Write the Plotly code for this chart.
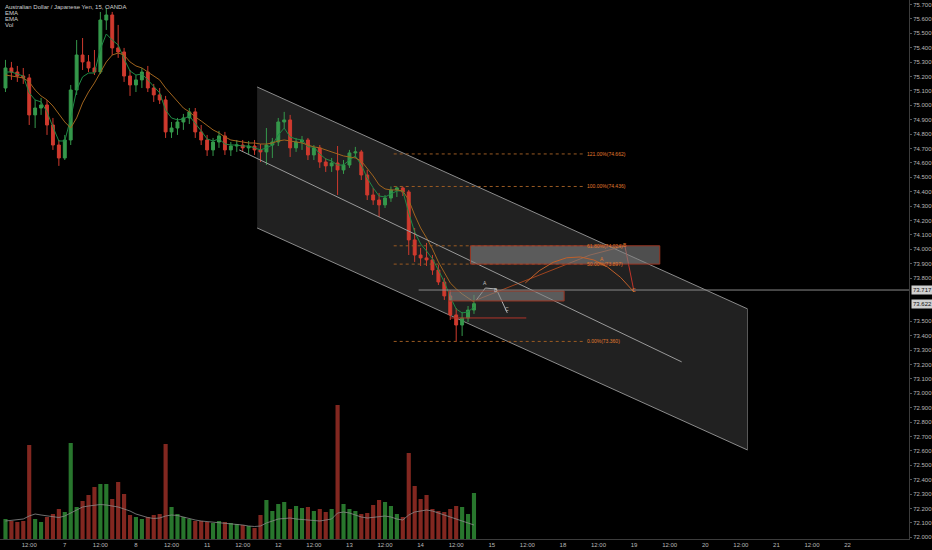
import plotly.graph_objects as go

# ---------------- header texts ----------------
header_lines = ["Australian Dollar / Japanese Yen, 15, OANDA", "EMA", "EMA", "Vol"]

# ---------------- time axis (trading-day units, weekends removed; 0 = Nov 6 00:00) ----------------
tick_positions = [0.5, 1, 1.5, 2, 2.5, 3, 3.5, 4, 4.5, 5, 5.5, 6, 6.5, 7, 7.5, 8, 8.5, 9, 9.5, 10, 10.5, 11, 11.5, 12]
tick_labels = ["12:00", "7", "12:00", "8", "12:00", "11", "12:00", "12", "12:00", "13", "12:00", "14",
               "12:00", "15", "12:00", "18", "12:00", "19", "12:00", "20", "12:00", "21", "12:00", "22"]
first_bar_start = 0.125      # Nov 6 03:00
bar_length = 1 / 12          # 2-hour bars

# ---------------- price data (2h OHLC) ----------------
opens = [75.120, 75.259, 75.231, 75.203, 75.190, 74.933, 74.981, 75.002, 74.863, 74.724,
         74.634, 74.759, 75.106, 75.349, 75.301, 75.259, 75.231, 75.592, 75.627, 75.398,
         75.370, 75.203, 75.141, 75.176, 75.231, 75.120, 75.072, 75.037, 74.815, 74.842,
         74.884, 74.912, 74.954, 74.815, 74.759, 74.690, 74.745, 74.787, 74.690, 74.717,
         74.724, 74.704, 74.717, 74.690, 74.676, 74.724, 74.745, 74.884, 74.898, 74.704,
         74.745, 74.759, 74.655, 74.704, 74.606, 74.579, 74.599, 74.551, 74.585, 74.669,
         74.676, 74.516, 74.377, 74.342, 74.308, 74.356, 74.412, 74.426, 74.398, 74.065,
         73.960, 73.940, 73.926, 73.856, 73.773, 73.676, 73.544, 73.474, 73.523, 73.578]
highs = [75.315, 75.301, 75.273, 75.259, 75.217, 75.037, 75.051, 75.037, 74.912, 74.759,
         74.794, 75.141, 75.453, 75.467, 75.349, 75.384, 75.648, 75.676, 75.648, 75.558,
         75.398, 75.245, 75.210, 75.259, 75.273, 75.148, 75.120, 75.065, 74.884, 74.912,
         74.940, 74.981, 74.981, 74.863, 74.794, 74.773, 74.822, 74.815, 74.745, 74.759,
         74.759, 74.752, 74.759, 74.731, 74.842, 74.773, 74.912, 74.954, 74.933, 74.773,
         74.787, 74.773, 74.724, 74.724, 74.634, 74.634, 74.717, 74.620, 74.690, 74.711,
         74.690, 74.551, 74.426, 74.391, 74.377, 74.436, 74.436, 74.436, 74.412, 74.148,
         74.009, 74.044, 73.960, 73.891, 73.801, 73.717, 73.592, 73.565, 73.606, 73.683]
lows = [75.092, 75.176, 75.162, 75.148, 74.863, 74.842, 74.933, 74.794, 74.690, 74.579,
        74.620, 74.724, 75.072, 75.245, 75.231, 75.210, 75.217, 75.523, 75.349, 75.329,
        75.162, 75.065, 75.092, 75.120, 75.092, 75.023, 75.009, 74.773, 74.773, 74.794,
        74.829, 74.870, 74.773, 74.724, 74.648, 74.648, 74.704, 74.655, 74.648, 74.676,
        74.676, 74.662, 74.655, 74.606, 74.585, 74.634, 74.717, 74.842, 74.641, 74.676,
        74.690, 74.620, 74.620, 74.565, 74.537, 74.537, 74.377, 74.523, 74.565, 74.634,
        74.481, 74.342, 74.308, 74.224, 74.287, 74.329, 74.363, 74.370, 73.960, 73.912,
        73.884, 73.884, 73.822, 73.752, 73.648, 73.509, 73.360, 73.398, 73.495, 73.551]
closes = [75.259, 75.231, 75.203, 75.190, 74.933, 74.981, 75.002, 74.863, 74.724, 74.634,
          74.759, 75.106, 75.349, 75.301, 75.259, 75.231, 75.592, 75.627, 75.398, 75.370,
          75.203, 75.141, 75.176, 75.231, 75.120, 75.072, 75.037, 74.815, 74.842, 74.884,
          74.912, 74.954, 74.815, 74.759, 74.690, 74.745, 74.787, 74.690, 74.717, 74.724,
          74.704, 74.717, 74.690, 74.676, 74.724, 74.745, 74.884, 74.898, 74.704, 74.745,
          74.759, 74.655, 74.704, 74.606, 74.579, 74.599, 74.551, 74.585, 74.669, 74.676,
          74.516, 74.377, 74.342, 74.308, 74.356, 74.412, 74.426, 74.398, 74.065, 73.960,
          73.940, 73.926, 73.856, 73.773, 73.676, 73.544, 73.474, 73.523, 73.578, 73.622]

ema_fast = [75.231, 75.231, 75.217, 75.203, 75.086, 75.037, 75.023, 74.954, 74.849, 74.752,
            74.752, 74.912, 75.106, 75.197, 75.224, 75.224, 75.391, 75.495, 75.453, 75.419,
            75.322, 75.238, 75.210, 75.217, 75.176, 75.127, 75.086, 74.967, 74.912, 74.898,
            74.905, 74.926, 74.877, 74.822, 74.766, 74.752, 74.766, 74.731, 74.724, 74.724,
            74.717, 74.717, 74.704, 74.690, 74.704, 74.724, 74.794, 74.842, 74.780, 74.766,
            74.759, 74.711, 74.711, 74.662, 74.627, 74.613, 74.585, 74.585, 74.620, 74.648,
            74.585, 74.495, 74.426, 74.370, 74.363, 74.384, 74.405, 74.405, 74.252, 74.120,
            74.037, 73.988, 73.933, 73.856, 73.773, 73.669, 73.585, 73.558, 73.565, 73.599]
ema_slow = [75.210, 75.203, 75.197, 75.190, 75.162, 75.106, 75.065, 75.037, 74.995, 74.940,
            74.884, 74.842, 74.912, 75.016, 75.092, 75.155, 75.224, 75.301, 75.349, 75.363,
            75.349, 75.301, 75.273, 75.259, 75.231, 75.203, 75.176, 75.120, 75.072, 75.023,
            74.981, 74.954, 74.919, 74.891, 74.863, 74.829, 74.808, 74.780, 74.759, 74.752,
            74.745, 74.738, 74.738, 74.731, 74.731, 74.738, 74.752, 74.759, 74.752, 74.745,
            74.738, 74.724, 74.711, 74.704, 74.690, 74.676, 74.662, 74.648, 74.641, 74.634,
            74.613, 74.565, 74.509, 74.447, 74.419, 74.412, 74.412, 74.405, 74.342, 74.238,
            74.148, 74.079, 74.002, 73.912, 73.842, 73.766, 73.725, 73.690, 73.662, 73.634]

volumes = [200, 180, 170, 180, 940, 200, 170, 220, 250, 300,
           270, 960, 320, 380, 440, 520, 550, 550, 400, 570,
           450, 240, 220, 200, 220, 240, 250, 950, 320, 250,
           220, 200, 180, 180, 170, 160, 180, 170, 160, 150,
           140, 130, 110, 240, 390, 280, 350, 370, 300, 330,
           310, 320, 280, 300, 270, 300, 1340, 350, 300, 280,
           250, 260, 340, 390, 370, 330, 250, 220, 860, 530,
           400, 440, 300, 280, 270, 300, 330, 320, 250, 460]
volume_ma = [180, 185, 190, 200, 230, 250, 240, 230, 220, 215,
             230, 260, 290, 320, 330, 340, 345, 340, 330, 320,
             300, 280, 250, 230, 215, 205, 210, 230, 240, 235,
             220, 200, 190, 180, 175, 170, 165, 160, 155, 150,
             140, 130, 125, 130, 160, 180, 200, 205, 210, 200,
             195, 190, 185, 180, 190, 200, 260, 270, 260, 240,
             220, 210, 215, 225, 230, 220, 200, 190, 240, 270,
             280, 290, 280, 260, 240, 220, 200, 180, 160, 140]

# ---------------- drawings (in data coordinates) ----------------
channel_x = [3.703, 10.594, 10.594, 3.703]
channel_y = [75.127, 73.586, 72.606, 74.148]
mid_line_x = [3.451, 9.669]
mid_line_y = [74.690, 73.218]

fib_labels = ["121.00%(74.662)", "100.00%(74.436)", "61.80%(74.024)", "50.00%(73.897)", "0.00%(73.360)"]
fib_prices = [74.662, 74.436, 74.024, 73.897, 73.360]
fib_x = [5.622, 8.283]

zone_upper_x = [6.700, 9.361]
zone_upper_y = [73.897, 74.024]
zone_lower_x = [6.392, 8.017]
zone_lower_y = [73.641, 73.710]

hline_price = 73.717
hline_start = 5.972
red_line_x = [6.420, 7.485]
red_line_y = 73.523

small_abc_x = [6.784, 6.910, 7.064, 7.218]
small_abc_y = [73.648, 73.731, 73.724, 73.558]
big_abc_x = [6.784, 8.381, 8.871, 8.997]
big_abc_y = [73.648, 73.960, 74.023, 73.711]
arc_x = [7.471, 8.255, 8.997]
arc_y = [73.766, 74.158, 73.704]

x_range = [0.0896, 12.863]
y_range = [71.988, 75.731]
vol_range = [0, 5390]

# ---------------- build ----------------
n = len(closes)
x_bars = [first_bar_start + bar_length * (i + 0.5) for i in range(n)]
vol_colors = ["#2b7d30" if c >= o else "#8a2a22" for o, c in zip(opens, closes)]

fig = go.Figure()

fig.add_trace(go.Bar(x=x_bars, y=volumes, marker=dict(color=vol_colors, line=dict(width=0)),
                     width=bar_length * 0.7, yaxis="y2", opacity=0.95))
fig.add_trace(go.Scatter(x=x_bars, y=volume_ma, mode="lines", line=dict(color="#8a8a8a", width=0.8),
                         yaxis="y2"))
fig.add_trace(go.Candlestick(x=x_bars, open=opens, high=highs, low=lows, close=closes,
                             increasing=dict(line=dict(color="#35984b", width=1), fillcolor="#35984b"),
                             decreasing=dict(line=dict(color="#cf3a2e", width=1), fillcolor="#cf3a2e"),
                             whiskerwidth=0))
fig.add_trace(go.Scatter(x=x_bars, y=ema_fast, mode="lines", line=dict(color="#1f8a45", width=1)))
fig.add_trace(go.Scatter(x=x_bars, y=ema_slow, mode="lines", line=dict(color="#a0641e", width=1)))

shapes = []
# channel
path = "M {},{} L {},{} L {},{} L {},{} Z".format(channel_x[0], channel_y[0], channel_x[1], channel_y[1],
                                                   channel_x[2], channel_y[2], channel_x[3], channel_y[3])
shapes.append(dict(type="path", path=path, fillcolor="rgba(60,60,60,0.55)", line=dict(width=0), layer="below"))
shapes.append(dict(type="line", x0=channel_x[0], y0=channel_y[0], x1=channel_x[1], y1=channel_y[1],
                   line=dict(color="#8c8c8c", width=1), layer="below"))
shapes.append(dict(type="line", x0=channel_x[3], y0=channel_y[3], x1=channel_x[2], y1=channel_y[2],
                   line=dict(color="#8c8c8c", width=1), layer="below"))
shapes.append(dict(type="line", x0=channel_x[1], y0=channel_y[1], x1=channel_x[2], y1=channel_y[2],
                   line=dict(color="#5a5a5a", width=1), layer="below"))
shapes.append(dict(type="line", x0=mid_line_x[0], y0=mid_line_y[0], x1=mid_line_x[1], y1=mid_line_y[1],
                   line=dict(color="#9a9a9a", width=1)))
# fib levels
for p in fib_prices:
    shapes.append(dict(type="line", x0=fib_x[0], x1=fib_x[1], y0=p, y1=p,
                       line=dict(color="#9a5a22", width=1, dash="dot")))
# zones
shapes.append(dict(type="rect", x0=zone_upper_x[0], x1=zone_upper_x[1], y0=zone_upper_y[0], y1=zone_upper_y[1],
                   fillcolor="rgba(130,130,130,0.6)", line=dict(color="#9a3522", width=1)))
shapes.append(dict(type="rect", x0=zone_lower_x[0], x1=zone_lower_x[1], y0=zone_lower_y[0], y1=zone_lower_y[1],
                   fillcolor="rgba(130,130,130,0.6)", line=dict(color="#9a3522", width=1)))
# horizontal ray & red line
shapes.append(dict(type="line", x0=hline_start, x1=x_range[1], y0=hline_price, y1=hline_price,
                   line=dict(color="#8a8a8a", width=1)))
shapes.append(dict(type="line", x0=red_line_x[0], x1=red_line_x[1], y0=red_line_y, y1=red_line_y,
                   line=dict(color="#b0342a", width=1)))
# arc
shapes.append(dict(type="path", path="M {},{} Q {},{} {},{}".format(arc_x[0], arc_y[0], arc_x[1], arc_y[1],
                                                                     arc_x[2], arc_y[2]),
                   line=dict(color="#c0602a", width=1)))
fig.update_layout(shapes=shapes)

# ABC patterns
fig.add_trace(go.Scatter(x=small_abc_x, y=small_abc_y, mode="lines", line=dict(color="#b0b0b0", width=1)))
fig.add_trace(go.Scatter(x=big_abc_x[:3], y=big_abc_y[:3], mode="lines", line=dict(color="#a0441e", width=1)))
fig.add_trace(go.Scatter(x=big_abc_x[2:], y=big_abc_y[2:], mode="lines", line=dict(color="#c0342a", width=1)))

ann = []
for i, t in enumerate(header_lines):
    ann.append(dict(xref="paper", yref="paper", x=0.003, y=1, yshift=-2 - 6 * i, xanchor="left", yanchor="top",
                    text=t, showarrow=False, font=dict(size=6, color="#d0d0d0", family="Liberation Sans")))
for t, p in zip(fib_labels, fib_prices):
    ann.append(dict(x=fib_x[1], y=p, xanchor="left", yanchor="middle", xshift=2, text=t, showarrow=False,
                    font=dict(size=5, color="#e07a2e", family="Liberation Sans")))
for t, xx, yy, dy in zip(["A", "B", "C"], small_abc_x[1:], small_abc_y[1:], [5, -1, 4]):
    ann.append(dict(x=xx, y=yy, yshift=dy, text=t, showarrow=False,
                    font=dict(size=5, color="#c0c0c0", family="Liberation Sans")))
for t, xx, yy, dx, dy in zip(["A", "B", "C"], big_abc_x[1:], big_abc_y[1:], [12, 0, 0], [-4, 1, 1]):
    ann.append(dict(x=xx, y=yy, xshift=dx, yshift=dy, text=t, showarrow=False,
                    font=dict(size=5, color="#e07a2e", family="Liberation Sans")))
# price labels on the axis
ann.append(dict(xref="paper", x=1, y=hline_price, xanchor="left", yanchor="middle", xshift=2,
                text="{:.3f}".format(hline_price), showarrow=False, bgcolor="#cfcfcf",
                font=dict(size=6, color="#111111", family="Liberation Sans"), borderpad=1))
ann.append(dict(xref="paper", x=1, y=closes[-1], xanchor="left", yanchor="middle", xshift=2,
                text="{:.3f}".format(closes[-1]), showarrow=False, bgcolor="#cfcfcf",
                font=dict(size=6, color="#111111", family="Liberation Sans"), borderpad=1))

price_ticks = [round(72.0 + 0.1 * k, 1) for k in range(38)]
price_ticks = [v for v in price_ticks if v not in (73.6, 73.7)]

fig.update_layout(
    width=932, height=550,
    margin=dict(l=0, r=20, t=0, b=11),
    paper_bgcolor="#000000", plot_bgcolor="#000000",
    showlegend=False, hovermode=False,
    annotations=ann,
    xaxis=dict(range=x_range, tickvals=tick_positions, ticktext=tick_labels, showgrid=False, zeroline=False,
               showline=True, linecolor="#3c3c3c", linewidth=1, ticks="", rangeslider=dict(visible=False),
               tickfont=dict(size=6, color="#b8b8b8", family="Liberation Sans")),
    yaxis=dict(range=y_range, side="right", tickvals=price_ticks,
               ticktext=["{:.3f}".format(v) for v in price_ticks], showgrid=False, zeroline=False,
               showline=True, linecolor="#3c3c3c", linewidth=1, ticks="outside", ticklen=2, tickcolor="#555555",
               tickfont=dict(size=6, color="#b8b8b8", family="Liberation Sans")),
    yaxis2=dict(range=vol_range, overlaying="y", visible=False, showgrid=False),
)

fig.write_html("out.html", config={"displayModeBar": False},
               post_script="document.body.style.margin='0';document.body.style.background='#000';")
